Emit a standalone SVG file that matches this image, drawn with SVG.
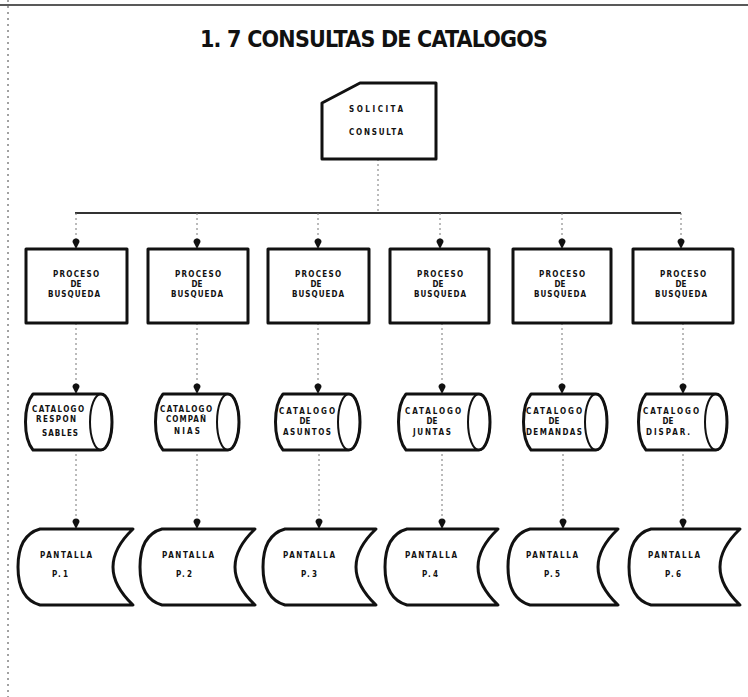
<svg xmlns="http://www.w3.org/2000/svg" width="748" height="697" viewBox="0 0 748 697">
  <style>
    .frame { fill: none; stroke: #444; stroke-width: 1; stroke-dasharray: 2 4; }
    .rule { stroke: #222; stroke-width: 1.5; }
    .title { font-family: "DejaVu Sans Condensed", "DejaVu Sans", sans-serif; font-weight: bold; font-size: 23px; fill: #111; }
    .shape { fill: #fff; stroke: #111; stroke-width: 3; stroke-linejoin: round; }
    .inner { fill: none; stroke: #111; stroke-width: 2; }
    .lbl { font-family: "DejaVu Sans Condensed", "DejaVu Sans", sans-serif; font-weight: bold; font-size: 8px; fill: #111; text-anchor: middle; }
    .bus { stroke: #333; stroke-width: 2; fill: none; }
    .link { stroke: #777; stroke-width: 1; stroke-dasharray: 2 3; fill: none; marker-end: url(#pin); }
    .stub { stroke: #777; stroke-width: 1; stroke-dasharray: 2 3; fill: none; }
  </style>
  <defs>
    <!-- round-headed pointer used at the end of every flow line -->
    <marker id="pin" viewBox="0 0 11 8" refX="11" refY="4" markerWidth="11" markerHeight="8" markerUnits="userSpaceOnUse" orient="auto">
      <path d="M4,0.5 A3.5,3.5 0 0 0 4,7.5 L11,4 Z" fill="#111"/>
    </marker>
  </defs>

  <rect width="748" height="697" fill="#fff"/>
  <!-- sheet edges -->
  <line class="rule" x1="0" y1="5" x2="748" y2="5"/>
  <line class="frame" x1="8" y1="0" x2="8" y2="697"/>

  <text class="title" x="374" y="47" text-anchor="middle" textLength="348" lengthAdjust="spacing">1. 7 CONSULTAS DE CATALOGOS</text>

  <!-- connectors -->
  <g id="connectors">
    <line class="stub" x1="378" y1="159" x2="378" y2="213"/>
    <line class="bus" x1="75" y1="213" x2="681" y2="213"/>
    <line class="link" x1="76" y1="213" x2="76" y2="249"/>
    <line class="link" x1="197" y1="213" x2="197" y2="249"/>
    <line class="link" x1="318" y1="213" x2="318" y2="249"/>
    <line class="link" x1="440" y1="213" x2="440" y2="249"/>
    <line class="link" x1="562" y1="213" x2="562" y2="249"/>
    <line class="link" x1="681" y1="213" x2="681" y2="249"/>

    <line class="link" x1="76" y1="323" x2="76" y2="394"/>
    <line class="link" x1="197" y1="323" x2="197" y2="394"/>
    <line class="link" x1="318" y1="323" x2="318" y2="394"/>
    <line class="link" x1="442" y1="323" x2="442" y2="394"/>
    <line class="link" x1="562" y1="323" x2="562" y2="394"/>
    <line class="link" x1="683" y1="323" x2="683" y2="394"/>

    <line class="link" x1="76" y1="449" x2="76" y2="529"/>
    <line class="link" x1="197" y1="449" x2="197" y2="529"/>
    <line class="link" x1="319" y1="449" x2="319" y2="529"/>
    <line class="link" x1="442" y1="449" x2="442" y2="529"/>
    <line class="link" x1="563" y1="449" x2="563" y2="529"/>
    <line class="link" x1="683" y1="449" x2="683" y2="529"/>
  </g>

  <!-- request card -->
  <g id="solicita">
    <path class="shape" d="M322,103 L360,83 L436,83 L436,159 L322,159 Z"/>
    <text class="lbl" x="376" y="112" textLength="54" lengthAdjust="spacing">SOLICITA</text>
    <text class="lbl" x="376" y="135" textLength="54" lengthAdjust="spacing">CONSULTA</text>
  </g>

  <!-- search processes -->
  <g id="proceso1">
    <rect class="shape" x="26" y="249" width="101" height="74"/>
    <text class="lbl" x="76" y="277" textLength="46" lengthAdjust="spacing">PROCESO</text>
    <text class="lbl" x="76" y="287">DE</text>
    <text class="lbl" x="74" y="297" textLength="52" lengthAdjust="spacing">BUSQUEDA</text>
  </g>
  <g id="proceso2">
    <rect class="shape" x="148" y="249" width="100" height="74"/>
    <text class="lbl" x="198" y="277" textLength="46" lengthAdjust="spacing">PROCESO</text>
    <text class="lbl" x="197" y="287">DE</text>
    <text class="lbl" x="197" y="297" textLength="52" lengthAdjust="spacing">BUSQUEDA</text>
  </g>
  <g id="proceso3">
    <rect class="shape" x="268" y="249" width="101" height="74"/>
    <text class="lbl" x="318" y="277" textLength="46" lengthAdjust="spacing">PROCESO</text>
    <text class="lbl" x="316" y="287">DE</text>
    <text class="lbl" x="318" y="297" textLength="52" lengthAdjust="spacing">BUSQUEDA</text>
  </g>
  <g id="proceso4">
    <rect class="shape" x="390" y="249" width="99" height="74"/>
    <text class="lbl" x="440" y="277" textLength="46" lengthAdjust="spacing">PROCESO</text>
    <text class="lbl" x="438" y="287">DE</text>
    <text class="lbl" x="440" y="297" textLength="52" lengthAdjust="spacing">BUSQUEDA</text>
  </g>
  <g id="proceso5">
    <rect class="shape" x="513" y="249" width="98" height="74"/>
    <text class="lbl" x="562" y="277" textLength="46" lengthAdjust="spacing">PROCESO</text>
    <text class="lbl" x="560" y="287">DE</text>
    <text class="lbl" x="560" y="297" textLength="52" lengthAdjust="spacing">BUSQUEDA</text>
  </g>
  <g id="proceso6">
    <rect class="shape" x="633" y="249" width="100" height="74"/>
    <text class="lbl" x="683" y="277" textLength="46" lengthAdjust="spacing">PROCESO</text>
    <text class="lbl" x="681" y="287">DE</text>
    <text class="lbl" x="681" y="297" textLength="52" lengthAdjust="spacing">BUSQUEDA</text>
  </g>

  <!-- catalogue stores (horizontal drums) -->
  <g id="catalogo1">
    <path class="shape" d="M33,394 H101 A11,28 0 0 1 101,450 H33 C23,438 23,406 33,394 Z"/>
    <ellipse class="inner" cx="101" cy="422" rx="11" ry="28"/>
    <text class="lbl" x="58" y="412" textLength="52" lengthAdjust="spacing">CATALOGO</text>
    <text class="lbl" x="56" y="422" textLength="40" lengthAdjust="spacing">RESPON</text>
    <text class="lbl" x="60" y="436" textLength="36" lengthAdjust="spacing">SABLES</text>
  </g>
  <g id="catalogo2">
    <path class="shape" d="M163,394 H228 A11,28 0 0 1 228,450 H163 C153,438 153,406 163,394 Z"/>
    <ellipse class="inner" cx="228" cy="422" rx="11" ry="28"/>
    <text class="lbl" x="186" y="412" textLength="52" lengthAdjust="spacing">CATALOGO</text>
    <text class="lbl" x="186" y="422" textLength="40" lengthAdjust="spacing">COMPAÑ</text>
    <text class="lbl" x="187" y="434" textLength="26" lengthAdjust="spacing">NIAS</text>
  </g>
  <g id="catalogo3">
    <path class="shape" d="M283,394 H349 A11,28 0 0 1 349,450 H283 C273,438 273,406 283,394 Z"/>
    <ellipse class="inner" cx="349" cy="422" rx="11" ry="28"/>
    <text class="lbl" x="307" y="414" textLength="56" lengthAdjust="spacing">CATALOGO</text>
    <text class="lbl" x="305" y="424">DE</text>
    <text class="lbl" x="307" y="435" textLength="48" lengthAdjust="spacing">ASUNTOS</text>
  </g>
  <g id="catalogo4">
    <path class="shape" d="M406,394 H479 A11,28 0 0 1 479,450 H406 C396,438 396,406 406,394 Z"/>
    <ellipse class="inner" cx="479" cy="422" rx="11" ry="28"/>
    <text class="lbl" x="433" y="414" textLength="56" lengthAdjust="spacing">CATALOGO</text>
    <text class="lbl" x="432" y="424">DE</text>
    <text class="lbl" x="432" y="435" textLength="38" lengthAdjust="spacing">JUNTAS</text>
  </g>
  <g id="catalogo5">
    <path class="shape" d="M531,394 H596 A11,28 0 0 1 596,450 H531 C521,438 521,406 531,394 Z"/>
    <ellipse class="inner" cx="596" cy="422" rx="11" ry="28"/>
    <text class="lbl" x="554" y="414" textLength="56" lengthAdjust="spacing">CATALOGO</text>
    <text class="lbl" x="554" y="424">DE</text>
    <text class="lbl" x="554" y="435" textLength="56" lengthAdjust="spacing">DEMANDAS</text>
  </g>
  <g id="catalogo6">
    <path class="shape" d="M646,394 H716 A11,28 0 0 1 716,450 H646 C636,438 636,406 646,394 Z"/>
    <ellipse class="inner" cx="716" cy="422" rx="11" ry="28"/>
    <text class="lbl" x="671" y="414" textLength="56" lengthAdjust="spacing">CATALOGO</text>
    <text class="lbl" x="668" y="424">DE</text>
    <text class="lbl" x="668" y="435" textLength="44" lengthAdjust="spacing">DISPAR.</text>
  </g>

  <!-- display screens -->
  <g id="pantalla1">
    <path class="shape" d="M40,529 H133 Q93,567 133,605 H40 C22,600 18,584 18,567 C18,550 22,534 40,529 Z"/>
    <text class="lbl" x="66" y="558" textLength="52" lengthAdjust="spacing">PANTALLA</text>
    <text class="lbl" x="60" y="577" textLength="16" lengthAdjust="spacing">P.1</text>
  </g>
  <g id="pantalla2">
    <path class="shape" d="M162,529 H255 Q215,567 255,605 H162 C144,600 140,584 140,567 C140,550 144,534 162,529 Z"/>
    <text class="lbl" x="188" y="558" textLength="52" lengthAdjust="spacing">PANTALLA</text>
    <text class="lbl" x="184" y="577" textLength="16" lengthAdjust="spacing">P.2</text>
  </g>
  <g id="pantalla3">
    <path class="shape" d="M285,529 H376 Q336,567 376,605 H285 C267,600 263,584 263,567 C263,550 267,534 285,529 Z"/>
    <text class="lbl" x="309" y="558" textLength="52" lengthAdjust="spacing">PANTALLA</text>
    <text class="lbl" x="309" y="577" textLength="16" lengthAdjust="spacing">P.3</text>
  </g>
  <g id="pantalla4">
    <path class="shape" d="M407,529 H498 Q458,567 498,605 H407 C389,600 385,584 385,567 C385,550 389,534 407,529 Z"/>
    <text class="lbl" x="431" y="558" textLength="52" lengthAdjust="spacing">PANTALLA</text>
    <text class="lbl" x="430" y="577" textLength="16" lengthAdjust="spacing">P.4</text>
  </g>
  <g id="pantalla5">
    <path class="shape" d="M530,529 H618 Q578,567 618,605 H530 C512,600 508,584 508,567 C508,550 512,534 530,529 Z"/>
    <text class="lbl" x="552" y="558" textLength="52" lengthAdjust="spacing">PANTALLA</text>
    <text class="lbl" x="552" y="577" textLength="16" lengthAdjust="spacing">P.5</text>
  </g>
  <g id="pantalla6">
    <path class="shape" d="M651,529 H740 Q700,567 740,605 H651 C633,600 629,584 629,567 C629,550 633,534 651,529 Z"/>
    <text class="lbl" x="674" y="558" textLength="52" lengthAdjust="spacing">PANTALLA</text>
    <text class="lbl" x="673" y="577" textLength="16" lengthAdjust="spacing">P.6</text>
  </g>
</svg>
